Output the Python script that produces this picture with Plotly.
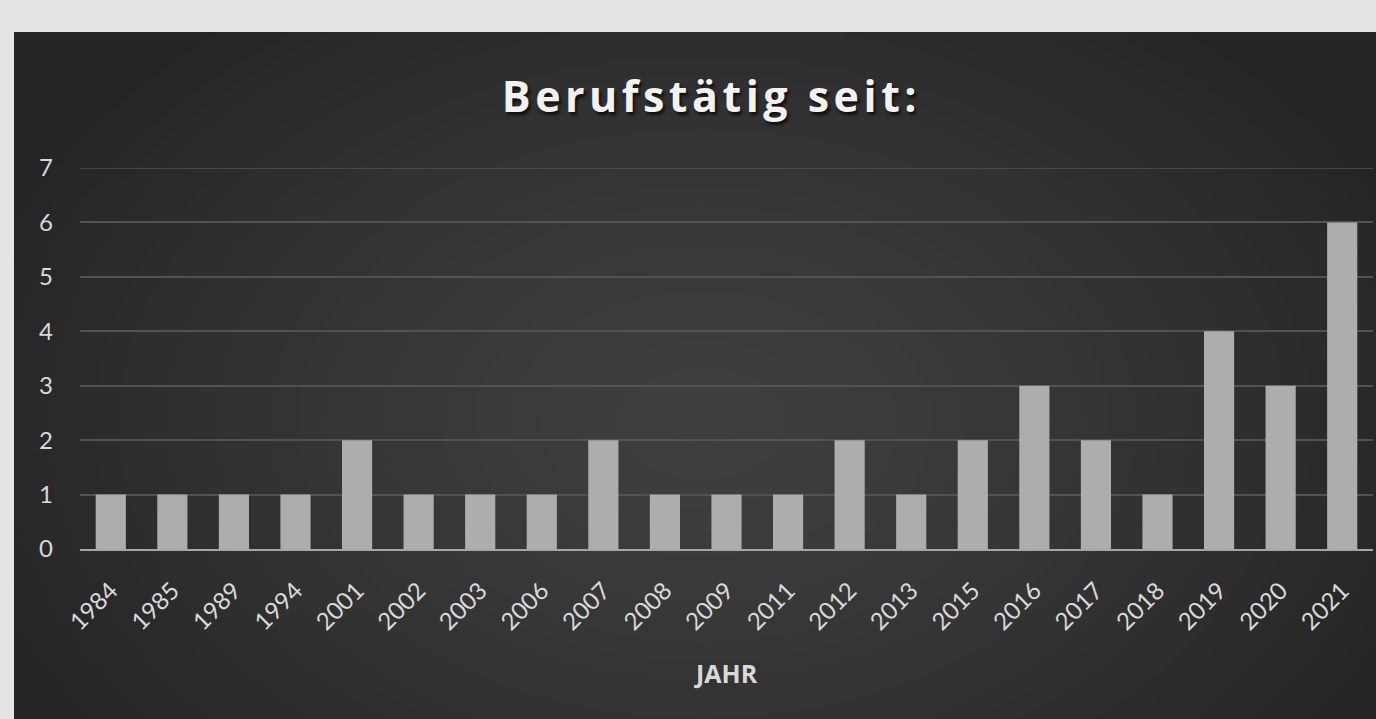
import plotly.graph_objects as go
import zlib, struct, base64, math

years = ["1984", "1985", "1989", "1994", "2001", "2002", "2003", "2006", "2007", "2008",
         "2009", "2011", "2012", "2013", "2015", "2016", "2017", "2018", "2019", "2020", "2021"]
counts = [1, 1, 1, 1, 2, 1, 1, 1, 2, 1, 1, 1, 2, 1, 2, 3, 2, 1, 4, 3, 6]
y_ticks = [0, 1, 2, 3, 4, 5, 6, 7]

W, H = 1376, 719
ML, MR, MT, MB = 80, 3, 168, 170
PW, PH = W - ML - MR, H - MT - MB
GRID = "#525252"


def px2x(px):
    return (px - ML) / PW


def px2y(py):
    return (H - MB - py) / PH


# radial gradient background image for the dark chart panel (pure-python PNG)
def make_png(w, h, fn):
    rows = []
    for j in range(h):
        row = bytearray([0])
        for i in range(w):
            row.append(fn(i, j))
        rows.append(bytes(row))
    raw = b"".join(rows)

    def chunk(tag, data):
        c = tag + data
        return struct.pack(">I", len(data)) + c + struct.pack(">I", zlib.crc32(c) & 0xffffffff)

    png = b"\x89PNG\r\n\x1a\n"
    png += chunk(b"IHDR", struct.pack(">IIBBBBB", w, h, 8, 0, 0, 0, 0))
    png += chunk(b"IDAT", zlib.compress(raw, 9))
    png += chunk(b"IEND", b"")
    return "data:image/png;base64," + base64.b64encode(png).decode()


PX0, PY0, PX1, PY1 = 14, 32, 1380, 722
SC = 4
iw, ih = (PX1 - PX0) // SC, (PY1 - PY0) // SC
cx, cy = 700, 420


def shade(i, j):
    x = PX0 + i * SC
    y = PY0 + j * SC
    d = math.sqrt(((x - cx) / 760) ** 2 + ((y - cy) / 520) ** 2)
    d = min(d, 1.0)
    return int(round(63 - (63 - 37) * d ** 1.3))


bg_uri = make_png(iw, ih, shade)

fig = go.Figure()
fig.add_trace(go.Bar(
    x=years, y=counts,
    marker=dict(color="#adadad", line=dict(width=0)),
    hoverinfo="x+y",
))

ymax = max(y_ticks)

fig.update_layout(
    width=W, height=H,
    margin=dict(l=ML, r=MR, t=MT, b=MB, pad=0),
    paper_bgcolor="#e4e4e4",
    plot_bgcolor="rgba(0,0,0,0)",
    bargap=0.51,
    showlegend=False,
    font=dict(family="Lato, 'Open Sans', sans-serif", color="#d9d9d9", size=18),
    images=[dict(
        source=bg_uri, xref="paper", yref="paper",
        x=px2x(PX0), y=px2y(PY0),
        sizex=px2x(PX1) - px2x(PX0), sizey=px2y(PY0) - px2y(PY1),
        xanchor="left", yanchor="top", sizing="stretch", layer="below",
    )],
    shapes=[dict(type="line", xref="paper", yref="y", x0=0, x1=1, y0=ymax, y1=ymax,
                 line=dict(color=GRID, width=1.5), layer="below")],
    xaxis=dict(
        type="category", tickangle=-45, showgrid=False,
        showline=True, linecolor="#a6a6a6", linewidth=2,
        ticks="", tickfont=dict(size=24, color="#d9d9d9"),
        ticklabelstandoff=16, fixedrange=True,
    ),
    yaxis=dict(
        range=[0, ymax], tickvals=y_ticks, showgrid=True,
        gridcolor=GRID, gridwidth=1.5, zeroline=False,
        ticks="", tickfont=dict(size=24, color="#d9d9d9"),
        ticklabelstandoff=26, fixedrange=True,
    ),
    annotations=[
        dict(text="<b>Berufstätig seit:</b>", xref="paper", yref="paper",
             x=px2x(711), y=px2y(95), xanchor="center", yanchor="middle",
             showarrow=False,
             font=dict(family="'Open Sans', Lato, sans-serif", size=43, color="#f2f2f2",
                       shadow="2px 3px 3px #101010")),
        dict(text="<b>JAHR</b>", xref="paper", yref="paper",
             x=px2x(726), y=px2y(673), xanchor="center", yanchor="middle",
             showarrow=False,
             font=dict(family="'Open Sans', Lato, sans-serif", size=25, color="#d9d9d9")),
    ],
)

post = """
document.body.style.margin = '0';
document.body.style.overflow = 'hidden';
var at = document.querySelectorAll('.annotation-text');
if (at.length > 0) { at[0].setAttribute('letter-spacing', '4.5px'); }
"""

fig.write_html("out.html", post_script=post, config={"displayModeBar": False})
